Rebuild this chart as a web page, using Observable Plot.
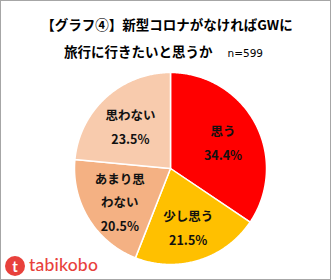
<!DOCTYPE html>
<html><head><meta charset="utf-8">
<script src="https://cdn.jsdelivr.net/npm/d3@7"></script>
<script src="https://cdn.jsdelivr.net/npm/@observablehq/plot@0.6"></script>
<style>
html,body{margin:0;padding:0;background:#fff}
#wrap{position:relative;width:331px;height:280px;overflow:hidden;font-family:"Noto Sans CJK JP",sans-serif;color:#000}
#frame{position:absolute;left:0;top:0;width:329px;height:278px;border:1px solid #a6a6a6;pointer-events:none}
#chart{position:absolute;left:0;top:0}
.t1{position:absolute;left:0;width:334px;top:14px;text-align:center;font-size:13.5px;font-weight:bold;line-height:20px;white-space:nowrap}
.t2{position:absolute;left:64px;top:41px;font-size:13.5px;font-weight:bold;line-height:20px;white-space:nowrap}
.t2 .n{font-size:10.5px;font-weight:normal;margin-left:15px;font-family:"DejaVu Sans",sans-serif}
.logo{position:absolute;left:5px;top:256px;width:20px;height:20px;border-radius:50%;background:#E8413C;color:#fff;font:bold 15px/20px "Lato",sans-serif;text-align:center}
.logotext{position:absolute;left:29px;top:254px;font:500 17.5px/22px "Lato",sans-serif;color:#E8413C;letter-spacing:0.2px}
</style>
</head><body>
<div id="wrap">
  <div id="chart"></div>
  <div class="t1">【グラフ④】新型コロナがなければGWに</div>
  <div class="t2">旅行に行きたいと思うか<span class="n">n=599</span></div>
  <div class="logo">t</div>
  <div class="logotext">tabikobo</div>
  <div id="frame"></div>
</div>
<script>
const categories = ["思う", "少し思う", "あまり思わない", "思わない"];
const values = [34.4, 21.5, 20.5, 23.5];
const labelLines = ["思う", "少し思う", "あまり思\nわない", "思わない"];
const colors = ["#FF0000", "#FFC000", "#F4B183", "#F8CBAD"];

const arcs = d3.pie().sort(null).value(d => d)(values);
const rows = [];
const labels = [];
arcs.forEach((a, i) => {
  const cat = categories[i];
  rows.push({cat, x: 0, y: 0});
  const n = Math.max(2, Math.ceil((a.endAngle - a.startAngle) / 0.01));
  for (let k = 0; k <= n; k++) {
    const t = a.startAngle + (a.endAngle - a.startAngle) * k / n;
    rows.push({cat, x: Math.sin(t), y: Math.cos(t)});
  }
  rows.push({cat, x: 0, y: 0});
  const mid = (a.startAngle + a.endAngle) / 2;
  labels.push({cat, x: 0.62 * Math.sin(mid), y: 0.62 * Math.cos(mid),
    text: labelLines[i] + "\n" + values[i].toFixed(1) + "%"});
});

const chart = Plot.plot({
  width: 331, height: 280,
  marginLeft: 74, marginRight: 65, marginTop: 72, marginBottom: 16,
  x: {domain: [-1, 1], axis: null},
  y: {domain: [-1, 1], axis: null},
  color: {domain: categories, range: colors},
  style: {background: "transparent"},
  marks: [
    Plot.line(rows, {x: "x", y: "y", z: "cat", fill: "cat", stroke: "#fff", strokeWidth: 1.5, curve: "linear"}),
    Plot.text(labels, {x: "x", y: "y", text: "text", fill: "#111", fontSize: 12.5, fontWeight: "bold",
      lineHeight: 1.9, fontFamily: "'Noto Sans CJK JP', sans-serif"})
  ]
});
document.getElementById("chart").appendChild(chart);
</script>
</body></html>
